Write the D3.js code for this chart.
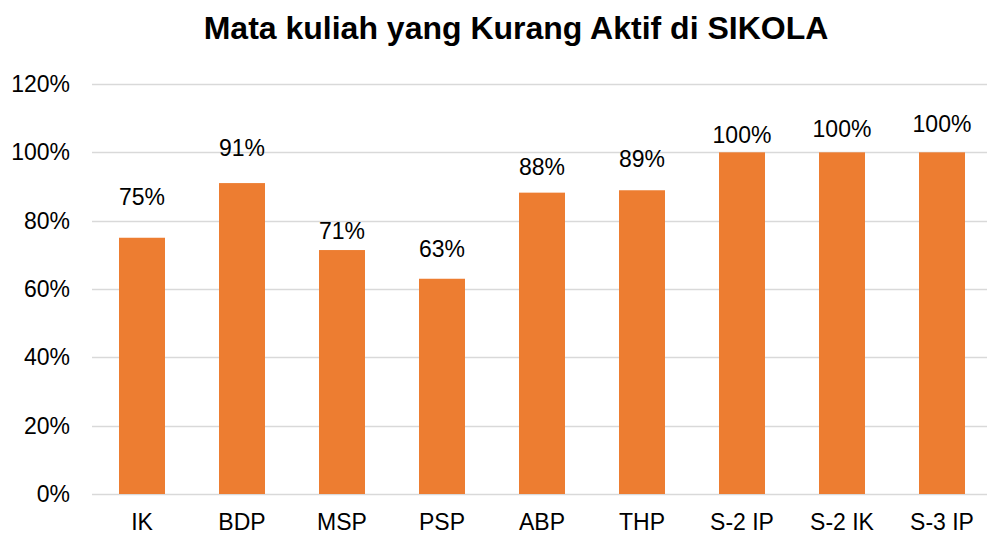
<!DOCTYPE html>
<html>
<head>
<meta charset="utf-8">
<script src="https://cdnjs.cloudflare.com/ajax/libs/d3/7.8.5/d3.min.js"></script>
<style>
  body { margin: 0; background: #fff; }
  text { font-family: "Liberation Sans", Arial, sans-serif; fill: #000; }
</style>
</head>
<body>
<svg id="chart" width="987" height="539"></svg>
<script>
var categories = ["IK", "BDP", "MSP", "PSP", "ABP", "THP", "S-2 IP", "S-2 IK", "S-3 IP"];
var values = [0.75, 0.91, 0.714, 0.63, 0.882, 0.889, 1.0, 1.0, 1.0];
var valueLabels = ["75%", "91%", "71%", "63%", "88%", "89%", "100%", "100%", "100%"];
var yTicks = [0, 0.2, 0.4, 0.6, 0.8, 1.0, 1.2];
var title = "Mata kuliah yang Kurang Aktif di SIKOLA";

(function(){
    var svg = d3.select("#chart");
    var margin = {top: 84, right: -5, bottom: 45, left: 92},
        width = +svg.attr("width") - margin.left - margin.right,
        height = +svg.attr("height") - margin.top - margin.bottom,
        g = svg.append("g").attr("transform", "translate(" + margin.left + "," + margin.top + ")");

    var x = d3.scaleBand()
        .domain(categories)
        .range([0, width])
        .paddingInner(0.54)
        .paddingOuter(0.27);

    var y = d3.scaleLinear()
        .domain([0, 1.2])
        .range([height, 0]);

    // gridlines
    g.append("g")
        .selectAll("line")
        .data(yTicks)
        .enter().append("line")
        .attr("x1", 0)
        .attr("x2", width)
        .attr("y1", function(d) { return Math.round(y(d)) + 0.5; })
        .attr("y2", function(d) { return Math.round(y(d)) + 0.5; })
        .attr("stroke", "#d9d9d9")
        .attr("stroke-width", 1.5);

    // y axis labels
    var yAxis = g.append("g")
        .call(d3.axisLeft(y).tickValues(yTicks).tickFormat(d3.format(".0%")).tickSize(0).tickPadding(22));
    yAxis.select(".domain").remove();
    yAxis.selectAll("text")
        .style("font-size", "23px")
        .attr("fill", "#000");

    // bars
    g.selectAll(".bar")
        .data(values)
        .enter().append("rect")
        .attr("class", "bar")
        .attr("x", function(d, i) { return x(categories[i]); })
        .attr("width", x.bandwidth())
        .attr("y", function(d) { return y(d); })
        .attr("height", function(d) { return y(0) - y(d); })
        .attr("fill", "#ed7d31");

    // labels were nudged by hand in the original, so each gets its own lift
    var labelLift = [33, 27, 11, 22, 18, 23, 9, 15, 20];
    g.selectAll(".val")
        .data(values)
        .enter().append("text")
        .attr("class", "val")
        .attr("x", function(d, i) { return x(categories[i]) + x.bandwidth() / 2; })
        .attr("y", function(d, i) { return y(d) - labelLift[i]; })
        .attr("text-anchor", "middle")
        .style("font-size", "23px")
        .text(function(d, i) { return valueLabels[i]; });

    // x axis labels
    var xAxis = g.append("g")
        .attr("transform", "translate(0," + height + ")")
        .call(d3.axisBottom(x).tickSize(0).tickPadding(20));
    xAxis.select(".domain").remove();
    xAxis.selectAll("text")
        .style("font-size", "23px")
        .attr("fill", "#000");

    svg.append("text")
        .attr("x", 516)
        .attr("y", 39)
        .attr("text-anchor", "middle")
        .style("font-size", "32px")
        .style("font-weight", "bold")
        .text(title);
})();
</script>
</body>
</html>
